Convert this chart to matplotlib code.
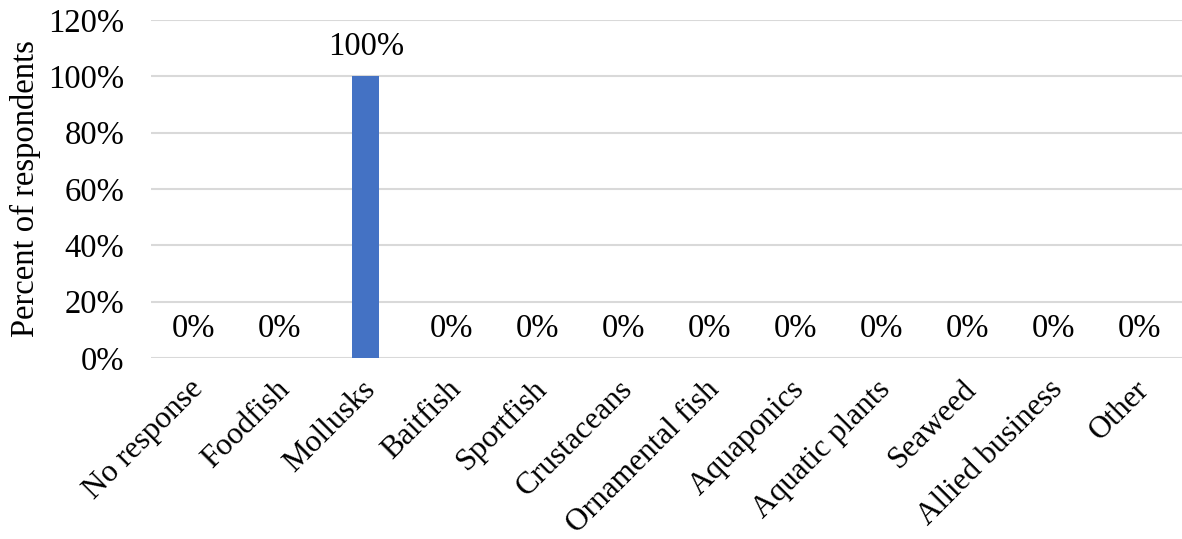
import matplotlib
matplotlib.use("Agg")
import matplotlib.pyplot as plt
from matplotlib.ticker import FuncFormatter
from matplotlib.transforms import ScaledTranslation

categories = ["No response", "Foodfish", "Mollusks", "Baitfish", "Sportfish", "Crustaceans",
              "Ornamental fish", "Aquaponics", "Aquatic plants", "Seaweed", "Allied business", "Other"]
values = [0, 0, 100, 0, 0, 0, 0, 0, 0, 0, 0, 0]
yticks = [0, 20, 40, 60, 80, 100, 120]

plt.rcParams['font.family'] = ['Liberation Serif', 'DejaVu Serif']
FS = 23.5

fig = plt.figure(figsize=(11.82, 5.39), dpi=100)
ax = fig.add_axes([0.1277, 0.3358, 0.8723, 0.6271])

x = list(range(len(categories)))
ax.bar(x, values, width=0.32, color="#4472C4", zorder=3)
ax.set_xlim(-0.5, len(categories) - 0.5)
ax.set_ylim(0, 120)
ax.set_yticks(yticks)
ax.yaxis.set_major_formatter(FuncFormatter(lambda v, p: f"{int(v)}%"))
ax.grid(axis='y', color="#D9D9D9", linewidth=1.5, zorder=0)
for s in ax.spines.values():
    s.set_visible(False)
ax.tick_params(axis='both', length=0, labelsize=FS, colors='black')
ax.tick_params(axis='y', pad=19)
ax.set_xticks(x)
ax.set_xticklabels(categories, rotation=45, ha='right', rotation_mode='anchor', fontsize=22.5)
ax.tick_params(axis='x', pad=12)
shift = ScaledTranslation(-5 / 100, 0, fig.dpi_scale_trans)
for lbl in ax.get_xticklabels():
    lbl.set_transform(lbl.get_transform() + shift)
ax.set_ylabel("Percent of respondents", fontsize=FS, labelpad=5)

for xi, v in zip(x, values):
    ax.annotate(f"{v}%", (xi, v), xytext=(0, 10), textcoords='offset points',
                ha='center', va='bottom', fontsize=FS)

fig.savefig("out.png", dpi=100)
